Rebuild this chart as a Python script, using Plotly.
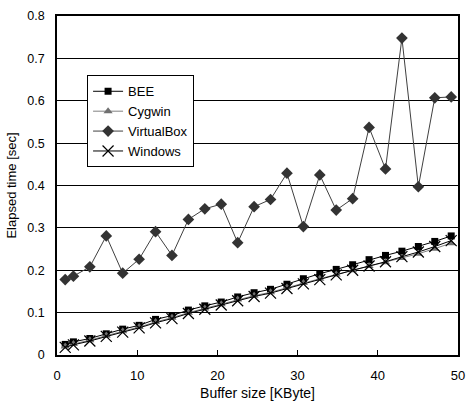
import plotly.graph_objects as go

buffer_kbyte = [1.024, 2.048, 4.096, 6.144, 8.192, 10.24, 12.288, 14.336, 16.384, 18.432,
                20.48, 22.528, 24.576, 26.624, 28.672, 30.72, 32.768, 34.816, 36.864,
                38.912, 40.96, 43.008, 45.056, 47.104, 49.152]

bee = [0.025, 0.031, 0.039, 0.050, 0.061, 0.070, 0.084, 0.093, 0.106, 0.116, 0.125, 0.137,
       0.147, 0.155, 0.167, 0.180, 0.192, 0.202, 0.213, 0.225, 0.235, 0.245, 0.256, 0.268, 0.281]
cygwin = [0.020, 0.026, 0.035, 0.046, 0.056, 0.066, 0.078, 0.088, 0.100, 0.110, 0.120, 0.131,
          0.140, 0.148, 0.159, 0.170, 0.180, 0.190, 0.200, 0.210, 0.219, 0.229, 0.239, 0.251, 0.264]
virtualbox = [0.178, 0.186, 0.208, 0.281, 0.193, 0.226, 0.291, 0.235, 0.320, 0.345, 0.356, 0.265,
              0.350, 0.367, 0.429, 0.303, 0.425, 0.342, 0.369, 0.537, 0.439, 0.748, 0.397, 0.607, 0.609]
windows = [0.018, 0.024, 0.033, 0.044, 0.054, 0.064, 0.076, 0.086, 0.098, 0.108, 0.118, 0.128,
           0.138, 0.146, 0.157, 0.168, 0.178, 0.189, 0.200, 0.210, 0.220, 0.232, 0.243, 0.256, 0.270]

x_ticks = [0, 10, 20, 30, 40, 50]
y_ticks = [0, 0.1, 0.2, 0.3, 0.4, 0.5, 0.6, 0.7, 0.8]
y_ticktext = ["0", "0.1", "0.2", "0.3", "0.4", "0.5", "0.6", "0.7", "0.8"]

FONT = "Liberation Sans"

fig = go.Figure()
fig.add_trace(go.Scatter(x=buffer_kbyte, y=bee, name="BEE", mode="lines+markers",
                         line=dict(color="black", width=1),
                         marker=dict(symbol="square", size=7, color="black")))
fig.add_trace(go.Scatter(x=buffer_kbyte, y=cygwin, name="Cygwin", mode="lines+markers",
                         line=dict(color="#808080", width=1),
                         marker=dict(symbol="triangle-up", size=8, color="#707070")))
fig.add_trace(go.Scatter(x=buffer_kbyte, y=virtualbox, name="VirtualBox", mode="lines+markers",
                         line=dict(color="#404040", width=1),
                         marker=dict(symbol="diamond", size=9, color="#333333")))
fig.add_trace(go.Scatter(x=buffer_kbyte, y=windows, name="Windows", mode="lines+markers",
                         line=dict(color="black", width=1),
                         marker=dict(symbol="x-thin", size=11, color="black",
                                     line=dict(color="black", width=1.2))))

fig.update_layout(
    width=466, height=406,
    margin=dict(l=57, r=8, t=16, b=51),
    paper_bgcolor="white", plot_bgcolor="white",
    font=dict(family=FONT, size=13, color="black"),
    showlegend=True,
    legend=dict(x=0.075, y=0.825, xanchor="left", yanchor="top",
                bgcolor="white", bordercolor="black", borderwidth=1,
                font=dict(family=FONT, size=13, color="black"),
                tracegroupgap=0, itemwidth=30),
    xaxis=dict(range=[0, 50], tickvals=x_ticks, ticks="inside", ticklen=5,
               tickcolor="black", showline=True, linecolor="black", linewidth=1.5,
               mirror=True, showgrid=False, zeroline=False, ticklabelstandoff=8,
               automargin=False,
               title=dict(text="Buffer size [KByte]", font=dict(size=14), standoff=6),
               tickfont=dict(size=13)),
    yaxis=dict(range=[0, 0.8], tickvals=y_ticks, ticktext=y_ticktext,
               ticks="", showline=True, linecolor="black", linewidth=1.5, mirror=True,
               showgrid=True, gridcolor="black", gridwidth=1, zeroline=False,
               ticklabelstandoff=8, automargin=False,
               title=dict(text="Elapsed time [sec]", font=dict(size=13), standoff=8),
               tickfont=dict(size=12.5)),
)

fig.write_html("out.html")
